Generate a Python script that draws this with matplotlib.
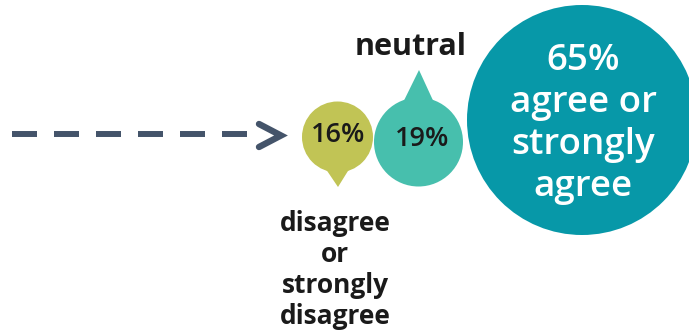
import matplotlib

matplotlib.use("Agg")
import matplotlib.pyplot as plt
from matplotlib.patches import Circle, Polygon

# data
shares = [16, 19, 65]
labels = ["disagree\nor\nstrongly\ndisagree", "neutral", "agree or\nstrongly\nagree"]
colors = ["#c1c455", "#47bfad", "#0798a8"]
radii = [35.5, 44.5, 115]
centers = [(337.5, 137), (418.5, 142), (582, 120)]

W, H = 689, 336
fig = plt.figure(figsize=(W / 100, H / 100), dpi=100)
ax = fig.add_axes([0, 0, 1, 1])
ax.set_xlim(0, W)
ax.set_ylim(H, 0)
ax.axis("off")

FONT = "Open Sans"
DARK = "#1a1a1a"
ARROW = "#44546a"

# dashed arrow
ax.plot([12, 250], [133.5, 133.5], color=ARROW, lw=4.3, dashes=(25 / 4.3 * 0.72, 17 / 4.3 * 0.72),
        solid_capstyle="butt", dash_capstyle="butt")
ax.plot([259, 281, 259], [124, 135.5, 147], color=ARROW, lw=4.6, solid_capstyle="round",
        solid_joinstyle="miter")

# bubbles
for (cx, cy), r, c in zip(centers, radii, colors):
    ax.add_patch(Circle((cx, cy), r, color=c, lw=0))

# pointers
cx, cy = centers[0]
ax.add_patch(Polygon([(cx - 12, cy + radii[0] - 4), (cx + 12, cy + radii[0] - 4), (cx + 0.5, 187)],
                     color=colors[0], lw=0))
cx, cy = centers[1]
ax.add_patch(Polygon([(cx - 15, cy - radii[1] + 4), (cx + 15, cy - radii[1] + 4), (cx + 0.5, 70)],
                     color=colors[1], lw=0))

# texts
ax.text(338, 135, f"{shares[0]}%", ha="center", va="center", fontsize=19.5,
        family=FONT, weight="semibold", color=DARK)
ax.text(422, 139, f"{shares[1]}%", ha="center", va="center", fontsize=19.5,
        family=FONT, weight="semibold", color=DARK)
ax.text(411, 47, labels[1], ha="center", va="center", fontsize=22,
        family=FONT, weight="bold", color=DARK)
ax.text(335, 270, labels[0], ha="center", va="center", fontsize=19,
        family=FONT, weight="bold", color=DARK, linespacing=1.2)
ax.text(583, 124, f"{shares[2]}%\n{labels[2]}", ha="center", va="center", fontsize=26.5,
        family=FONT, weight="semibold", color="white", linespacing=1.22)

fig.savefig("out.png", dpi=100)
